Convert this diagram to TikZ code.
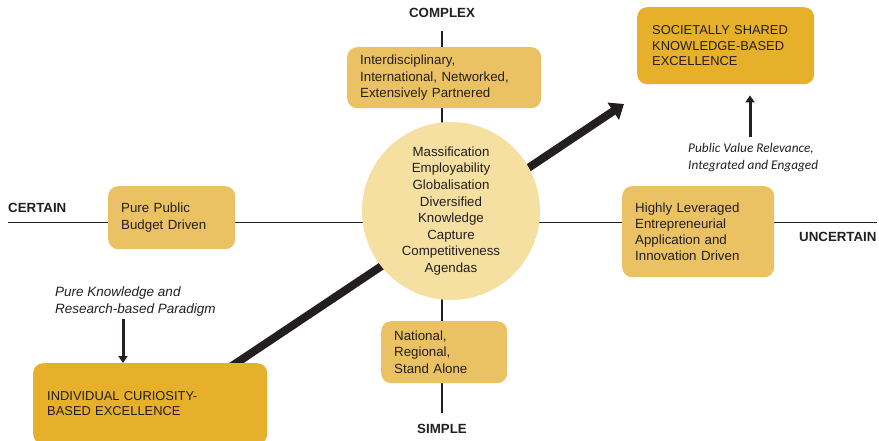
\documentclass[tikz,border=0pt]{standalone}
\usepackage{fontspec}
\setmainfont{Liberation Sans}
\newfontfamily\notefont{Carlito}
\usetikzlibrary{arrows.meta}
\definecolor{boxgold}{HTML}{EAC163}
\definecolor{deepgold}{HTML}{E7B02A}
\definecolor{hubgold}{HTML}{F5E0A1}
\definecolor{ink}{HTML}{231F20}

\begin{document}
\begin{tikzpicture} [x=1pt, y=-1pt, text=ink, font=\fontsize{13.3}{16.3}\selectfont, block/.style={rectangle, rounded corners=10pt, fill=boxgold, anchor=north west, align=left, inner xsep=13pt, inner ysep=0pt}, goal/.style={block, fill=deepgold, font=\fontsize{12.9}{15.8}\selectfont}, hub/.style={circle, fill=hubgold, minimum size=178pt, inner sep=0pt, align=center, font=\fontsize{13.3}{16.6}\selectfont}, axislabel/.style={inner sep=0pt, font=\fontsize{13.3}{16}\selectfont\bfseries}, note/.style={anchor=north west, inner sep=0pt, align=left}]
\useasboundingbox (0,0) rectangle (879,440);
  %% Axis labels
  \node [axislabel] (complex) at (442,13) {COMPLEX};
  \node [axislabel] (simple) at (442,429) {SIMPLE};
  \node [axislabel, anchor=west] (certain) at (8,208) {CERTAIN};
  \node [axislabel, anchor=west] (uncertain) at (799,237) {UNCERTAIN};
  \coordinate (north) at (442,31);
  \coordinate (south) at (442,413);
  \coordinate (west) at (8,222.5);
  \coordinate (east) at (877,222.5);
  % Draw axes
  \draw [line width=1.8pt, draw=ink] (north) -- (south);
  \draw [line width=1.8pt, draw=ink] (west) -- (east);
  % Trajectory
  \coordinate (trendfoot) at (205,384);
  \coordinate (trendtip) at (624,104);
  \draw [line width=8pt, draw=ink, -{Triangle[length=13pt,width=20pt]}] (trendfoot) -- (trendtip);
  %% Hub
  \node [hub] (drivers) at (451,211) {Massification\\ Employability\\ Globalisation\\ Diversified\\ Knowledge\\ Capture\\ Competitiveness\\ Agendas};
  %% Quadrant boxes
  \node [block, text width=168pt, minimum height=61pt] (networked) at (347,47) {Interdisciplinary,\\ International, Networked,\\ Extensively Partnered};
  \node [block, text width=101pt, minimum height=63pt] (budget) at (108,186) {Pure Public\\ Budget Driven};
  \node [block, text width=126pt, minimum height=91pt] (leveraged) at (622,186) {Highly Leveraged\\ Entrepreneurial\\ Application and\\ Innovation Driven};
  \node [block, text width=100pt, minimum height=62pt] (national) at (381,321) {National,\\ Regional,\\ Stand Alone};
  %% Excellence goals
  \node [goal, inner xsep=15pt, text width=147pt, minimum height=77pt] (societal) at (637,7) {SOCIETALLY SHARED\\ KNOWLEDGE-BASED\\ EXCELLENCE};
  \node [goal, inner xsep=14pt, text width=206pt, minimum height=81pt, font=\fontsize{12.9}{15}\selectfont] (curiosity) at (33,363) {INDIVIDUAL CURIOSITY-\\ BASED EXCELLENCE};
  %% Paradigm notes
  \node [note, font=\notefont\itshape\fontsize{13.3}{17}\selectfont] (valuenote) at (688,143.5) {Public Value Relevance,\\ Integrated and Engaged};
  \node [note, font=\itshape\fontsize{13.5}{16.5}\selectfont] (paradigmnote) at (55,287) {Pure Knowledge and\\ Research-based Paradigm};
  \coordinate (valuefoot) at (750,137);
  \coordinate (paradigmfoot) at (123,319);
  \draw [line width=3pt, draw=ink, -{Triangle[length=7pt,width=9pt]}, shorten >=11pt] (valuefoot) -- (valuefoot |- societal.south);
  \draw [line width=3pt, draw=ink, -{Triangle[length=7pt,width=9pt]}] (paradigmfoot) -- (paradigmfoot |- curiosity.north);
\end{tikzpicture}
\end{document}
